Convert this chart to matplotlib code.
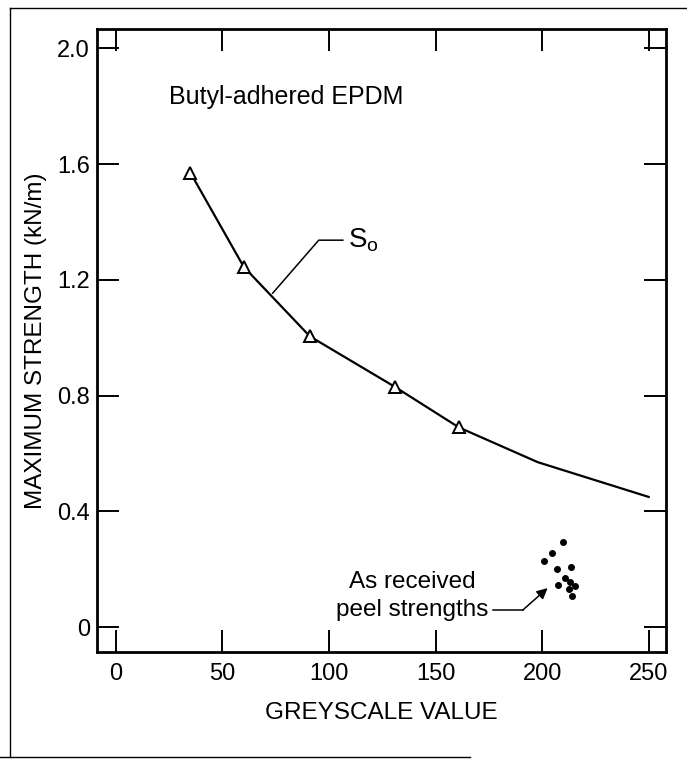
import numpy as np
import matplotlib.pyplot as plt
from matplotlib.lines import Line2D

plt.rcParams['font.family'] = ['Liberation Sans', 'DejaVu Sans']

# S_o curve (greyscale value vs maximum strength)
so_x = [35, 60, 91, 131, 161, 198, 250]
so_y = [1.57, 1.245, 1.005, 0.83, 0.69, 0.57, 0.45]
# triangle markers sit on the first five points
marker_x = [35, 60, 91, 131, 161]
marker_y = [1.57, 1.245, 1.005, 0.83, 0.69]

# as-received peel strengths
peel_x = [209.7, 204.5, 200.8, 213.4, 206.8, 210.6, 212.9, 207.3, 215.3, 212.5, 213.9]
peel_y = [0.294, 0.256, 0.228, 0.207, 0.200, 0.169, 0.155, 0.145, 0.142, 0.131, 0.107]

x_ticks = [0, 50, 100, 150, 200, 250]
y_ticks = [0, 0.4, 0.8, 1.2, 1.6, 2.0]
y_tick_labels = ['0', '0.4', '0.8', '1.2', '1.6', '2.0']

fig = plt.figure(figsize=(6.87, 7.6), dpi=100)
ax = fig.add_axes([0.141, 0.142, 0.828, 0.82])

ax.plot(so_x, so_y, color='black', lw=1.6)
ax.plot(marker_x, marker_y, ls='none', marker='^', ms=8, mfc='white',
        mec='black', mew=1.4)
ax.scatter(peel_x, peel_y, s=16, color='black', marker='o', zorder=3)

ax.set_xlim(-8.9, 258)
ax.set_ylim(-0.086, 2.067)
ax.set_xticks(x_ticks)
ax.set_yticks(y_ticks)
ax.set_yticklabels(y_tick_labels)
ax.tick_params(direction='in', length=16, width=1.4, top=True, right=True,
               labelsize=17, color='black')
ax.tick_params(axis='x', pad=8)
ax.tick_params(axis='y', pad=5)
for sp in ax.spines.values():
    sp.set_linewidth(2)

ax.set_xlabel('GREYSCALE VALUE', fontsize=17.5, labelpad=12)
ax.set_ylabel('MAXIMUM STRENGTH (kN/m)', fontsize=17.5, labelpad=7)

ax.text(25, 1.83, 'Butyl-adhered EPDM', fontsize=18, ha='left', va='center')

# S_o label with leader
ax.plot([73.6, 95.2, 106.5], [1.154, 1.337, 1.337], color='black', lw=1.1)
ax.text(108.8, 1.337, r'S$_\mathregular{o}$', fontsize=20, ha='left', va='center')

# peel strength label with arrow
ax.text(139, 0.155, 'As received', fontsize=17.5, ha='center', va='center')
ax.text(139, 0.059, 'peel strengths', fontsize=17.5, ha='center', va='center')
ax.plot([176.8, 190.9], [0.059, 0.059], color='black', lw=1.1)
ax.annotate('', xy=(202.6, 0.135), xytext=(190.9, 0.059),
            arrowprops=dict(arrowstyle='-|>', color='black', lw=1.1,
                            mutation_scale=16, shrinkA=0, shrinkB=0))

# scanned page frame
fig.add_artist(Line2D([10 / 687, 1.0], [1 - 8 / 760, 1 - 8 / 760],
                      transform=fig.transFigure, color='black', lw=1))
fig.add_artist(Line2D([10 / 687, 10 / 687], [1 - 8 / 760, 1 - 757 / 760],
                      transform=fig.transFigure, color='black', lw=1))
fig.add_artist(Line2D([0, 470 / 687], [1 - 757 / 760, 1 - 757 / 760],
                      transform=fig.transFigure, color='black', lw=1))

fig.savefig('out.png', dpi=100)
plt.close(fig)
